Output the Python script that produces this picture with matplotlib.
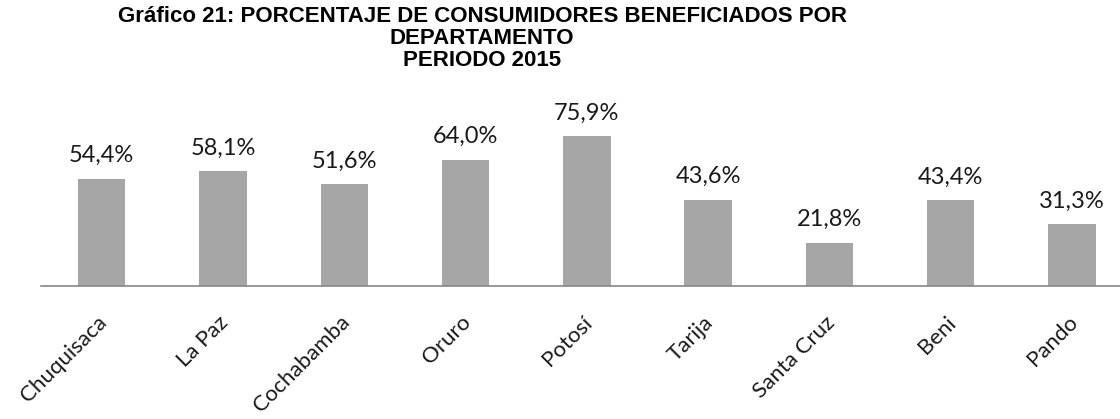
import matplotlib
matplotlib.use("Agg")
import matplotlib.pyplot as plt
from matplotlib.transforms import ScaledTranslation

categories = ["Chuquisaca", "La Paz", "Cochabamba", "Oruro", "Potosí",
              "Tarija", "Santa Cruz", "Beni", "Pando"]
values = [54.4, 58.1, 51.6, 64.0, 75.9, 43.6, 21.8, 43.4, 31.3]
title_lines = ["Gráfico 21: PORCENTAJE DE CONSUMIDORES BENEFICIADOS POR",
               "DEPARTAMENTO", "PERIODO 2015"]

W, H = 1120, 419
fig = plt.figure(figsize=(W / 100, H / 100), dpi=100)
left = 41 / W
right_px = 41 + 9 * 121.3
base = (H - 285.7) / H
height = 157.6 / H
ax = fig.add_axes([left, base, (right_px - 41) / W, height])

x = list(range(len(categories)))
ax.bar(x, values, width=0.39, color="#a6a6a6", zorder=2)
ax.set_xlim(-0.5, len(categories) - 0.5)
ax.set_ylim(0, 80)

for xi, v in zip(x, values):
    ax.annotate(f"{v:.1f}%".replace(".", ","), (xi, v), xytext=(0, 12),
                textcoords="offset points", ha="center", va="baseline",
                fontsize=17, family="Lato", color="#1a1a1a")

for s in ["top", "right", "left"]:
    ax.spines[s].set_visible(False)
ax.spines["bottom"].set_color("#868686")
ax.spines["bottom"].set_linewidth(1.2)
ax.set_yticks([])
ax.set_xticks(x)
ax.set_xticklabels(categories, rotation=45, ha="right", va="top",
                   rotation_mode="anchor", fontsize=16, family="Lato",
                   color="#1a1a1a")
ax.tick_params(axis="x", length=0, pad=19)
off = ScaledTranslation(-5 / 100, 0, fig.dpi_scale_trans)
for lbl in ax.get_xticklabels():
    lbl.set_transform(lbl.get_transform() + off)

ys = [17, 39, 60]
for line, yy in zip(title_lines, ys):
    fig.text(482 / W, 1 - yy / H, line, ha="center", va="center",
             fontsize=16, fontweight="bold", family="Liberation Sans")

fig.savefig("out.png", dpi=100)
